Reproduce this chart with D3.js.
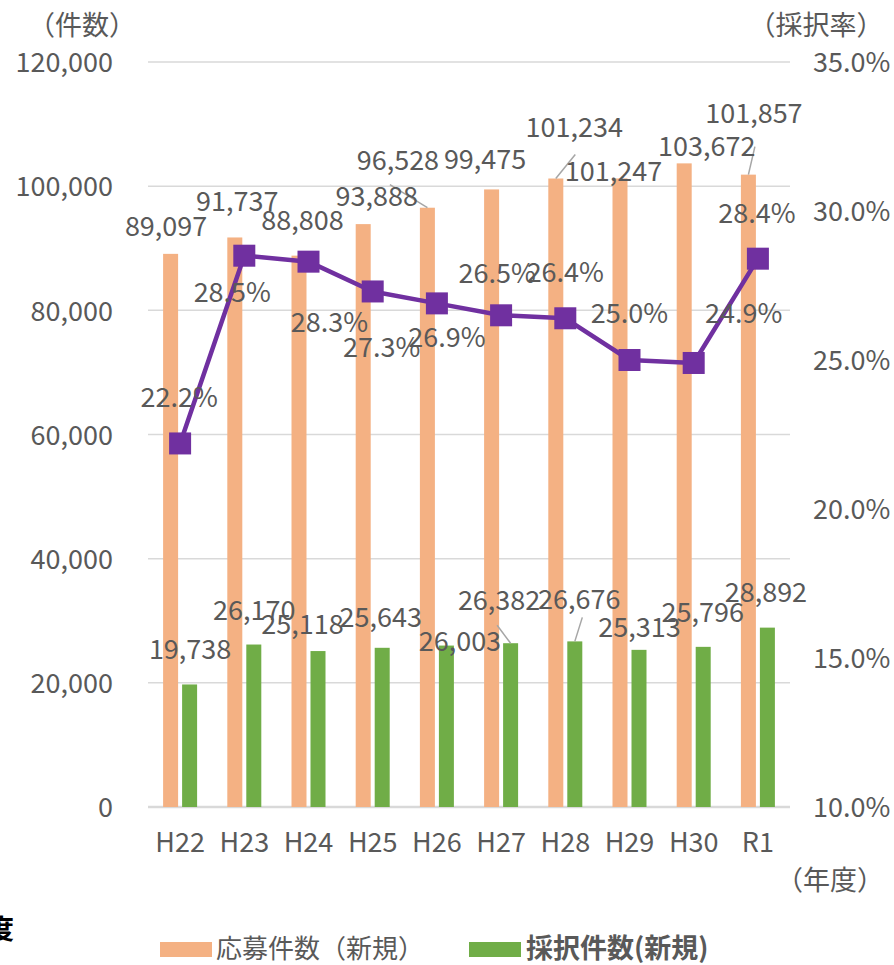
<!DOCTYPE html>
<html>
<head>
<meta charset="utf-8">
<script src="https://cdn.jsdelivr.net/npm/d3@7"></script>
<style>
  body { margin: 0; background: #fff; }
  svg text { font-family: "Noto Sans CJK JP", "Noto Sans", sans-serif; fill: #595959; }
</style>
</head>
<body>
<div id="chart"></div>
<script>
(function() {
    var width = 894, height = 965;
    var margin = { top: 62, left: 148, right: 104, bottom: 158 };

    // data
    var years = ["H22", "H23", "H24", "H25", "H26", "H27", "H28", "H29", "H30", "R1"];
    var applications = [89097, 91737, 88808, 93888, 96528, 99475, 101234, 101247, 103672, 101857];
    var adopted = [19738, 26170, 25118, 25643, 26003, 26382, 26676, 25313, 25796, 28892];
    var rates = [22.2, 28.5, 28.3, 27.3, 26.9, 26.5, 26.4, 25.0, 24.9, 28.4];

    var countTicks = [0, 20000, 40000, 60000, 80000, 100000, 120000];
    var rateTicks = [10, 15, 20, 25, 30, 35];

    // manual label offsets (px, from the point each label belongs to)
    var appLabelOff = [[-14, -18], [-7, -26], [-6, -26], [4, -18], [-39, -38], [-16, -20], [9, -42], [-16, 3], [13, -7], [-4, -52]];
    var adoptLabelOff = [[10, -25], [10, -25], [-6, -17], [8, -21], [23, 5], [-2, -33], [14, -32], [10, -13], [9, -25], [8, -26]];
    var rateLabelOff = [[-1, -36], [-12, 46], [21, 70], [9, 66], [10, 44], [-4, -32], [0, -36], [0, -37], [50, -40], [-1, -36]];
    // leader lines: index -> start offset from label anchor
    var appLeaders = { 4: [-8, 15], 6: [1, 18], 9: [1, 24] };
    var adoptLeaders = { 5: [-2, 15], 6: [3, 8] };

    var svg = d3.select("#chart").append("svg")
        .attr("width", width)
        .attr("height", height);

    var x = d3.scaleBand()
        .domain(years)
        .range([margin.left, width - margin.right]);

    var yCount = d3.scaleLinear()
        .domain([0, 120000])
        .range([height - margin.bottom, margin.top]);

    var yRate = d3.scaleLinear()
        .domain([10, 35])
        .range([height - margin.bottom, margin.top]);

    var fmt = d3.format(",");
    var cx = function(i) { return x(years[i]) + x.bandwidth() / 2; };

    // gridlines
    svg.append("g").selectAll("line")
        .data(countTicks)
        .enter().append("line")
        .attr("x1", margin.left)
        .attr("x2", width - margin.right)
        .attr("y1", function(d) { return yCount(d); })
        .attr("y2", function(d) { return yCount(d); })
        .attr("stroke", "#d9d9d9")
        .attr("stroke-width", function(d) { return d === 0 ? 2.5 : 1.5; });

    // left axis
    var leftAxis = svg.append("g")
        .attr("transform", "translate(" + (margin.left - 35) + ",0)")
        .call(d3.axisLeft(yCount).tickValues(countTicks).tickFormat(fmt).tickSize(0).tickPadding(0));
    leftAxis.select(".domain").remove();
    leftAxis.selectAll("text")
        .attr("font-size", 27)
        .attr("font-family", null)
        .attr("fill", null)
        .attr("dy", "0.36em");

    // right axis
    var rightAxis = svg.append("g")
        .attr("transform", "translate(" + (width - margin.right + 23) + ",0)")
        .call(d3.axisRight(yRate).tickValues(rateTicks).tickFormat(function(d) { return d.toFixed(1) + "%"; }).tickSize(0).tickPadding(0));
    rightAxis.select(".domain").remove();
    rightAxis.selectAll("text")
        .attr("font-size", 27)
        .attr("font-family", null)
        .attr("fill", null)
        .attr("dy", "0.36em");

    // bottom axis
    var bottomAxis = svg.append("g")
        .attr("transform", "translate(0," + (height - margin.bottom) + ")")
        .call(d3.axisBottom(x).tickSize(0).tickPadding(0));
    bottomAxis.select(".domain").remove();
    bottomAxis.selectAll("text")
        .attr("font-size", 27)
        .attr("font-family", null)
        .attr("fill", null)
        .attr("dy", null)
        .attr("y", 45);

    // axis titles
    svg.append("text").attr("x", 82).attr("y", 35).attr("text-anchor", "middle")
        .attr("font-size", 27).text("（件数）");
    svg.append("text").attr("x", 816).attr("y", 35).attr("text-anchor", "middle")
        .attr("font-size", 27).text("（採択率）");
    svg.append("text").attr("x", 830).attr("y", 890).attr("text-anchor", "middle")
        .attr("font-size", 27).text("（年度）");

    // bars
    var barW = 15, barGap = 4;
    svg.append("g").selectAll("rect")
        .data(applications)
        .enter().append("rect")
        .attr("x", function(d, i) { return cx(i) - barGap / 2 - barW; })
        .attr("y", function(d) { return yCount(d); })
        .attr("width", barW)
        .attr("height", function(d) { return yCount(0) - yCount(d); })
        .attr("fill", "#f4b183");

    svg.append("g").selectAll("rect")
        .data(adopted)
        .enter().append("rect")
        .attr("x", function(d, i) { return cx(i) + barGap / 2; })
        .attr("y", function(d) { return yCount(d); })
        .attr("width", barW)
        .attr("height", function(d) { return yCount(0) - yCount(d); })
        .attr("fill", "#70ad47");

    // rate line
    var line = d3.line()
        .x(function(d, i) { return cx(i); })
        .y(function(d) { return yRate(d); });

    svg.append("path")
        .datum(rates)
        .attr("d", line)
        .attr("fill", "none")
        .attr("stroke", "#7030a0")
        .attr("stroke-width", 4.5)
        .attr("stroke-linejoin", "round");

    var mk = 22;
    svg.append("g").selectAll("rect")
        .data(rates)
        .enter().append("rect")
        .attr("x", function(d, i) { return cx(i) - mk / 2; })
        .attr("y", function(d) { return yRate(d) - mk / 2; })
        .attr("width", mk)
        .attr("height", mk)
        .attr("fill", "#7030a0");

    // leader lines
    function leaders(values, offs, map, barX) {
        Object.keys(map).forEach(function(k) {
            var i = +k;
            var lx = cx(i) + offs[i][0], ly = yCount(values[i]) + offs[i][1];
            svg.append("line")
                .attr("x1", lx + map[k][0])
                .attr("y1", ly + map[k][1])
                .attr("x2", cx(i) + barX)
                .attr("y2", yCount(values[i]))
                .attr("stroke", "#a6a6a6")
                .attr("stroke-width", 1.5);
        });
    }
    leaders(applications, appLabelOff, appLeaders, -barGap / 2 - barW / 2);
    leaders(adopted, adoptLabelOff, adoptLeaders, barGap / 2 + barW / 2);

    // data labels
    var labels = svg.append("g").attr("font-size", 27).attr("text-anchor", "middle");

    labels.selectAll(".app-label")
        .data(applications)
        .enter().append("text")
        .attr("class", "app-label")
        .attr("x", function(d, i) { return cx(i) + appLabelOff[i][0]; })
        .attr("y", function(d, i) { return yCount(d) + appLabelOff[i][1]; })
        .text(function(d) { return fmt(d); });

    labels.selectAll(".adopt-label")
        .data(adopted)
        .enter().append("text")
        .attr("class", "adopt-label")
        .attr("x", function(d, i) { return cx(i) + adoptLabelOff[i][0]; })
        .attr("y", function(d, i) { return yCount(d) + adoptLabelOff[i][1]; })
        .text(function(d) { return fmt(d); });

    labels.selectAll(".rate-label")
        .data(rates)
        .enter().append("text")
        .attr("class", "rate-label")
        .attr("x", function(d, i) { return cx(i) + rateLabelOff[i][0]; })
        .attr("y", function(d, i) { return yRate(d) + rateLabelOff[i][1]; })
        .text(function(d) { return d.toFixed(1) + "%"; });

    // legend
    var legend = svg.append("g");
    legend.append("rect").attr("x", 160).attr("y", 942).attr("width", 52).attr("height", 15).attr("fill", "#f4b183");
    legend.append("text").attr("x", 216).attr("y", 958).attr("font-size", 26).text("応募件数（新規）");
    legend.append("rect").attr("x", 469).attr("y", 942).attr("width", 52).attr("height", 15).attr("fill", "#70ad47");
    legend.append("text").attr("x", 526).attr("y", 958).attr("font-size", 27).attr("font-weight", "bold").text("採択件数(新規)");

    // clipped heading fragment at the left edge
    svg.append("text").attr("x", -13).attr("y", 939).attr("font-size", 27)
        .attr("font-weight", "bold").style("fill", "#000").text("度");
})();
</script>
</body>
</html>
